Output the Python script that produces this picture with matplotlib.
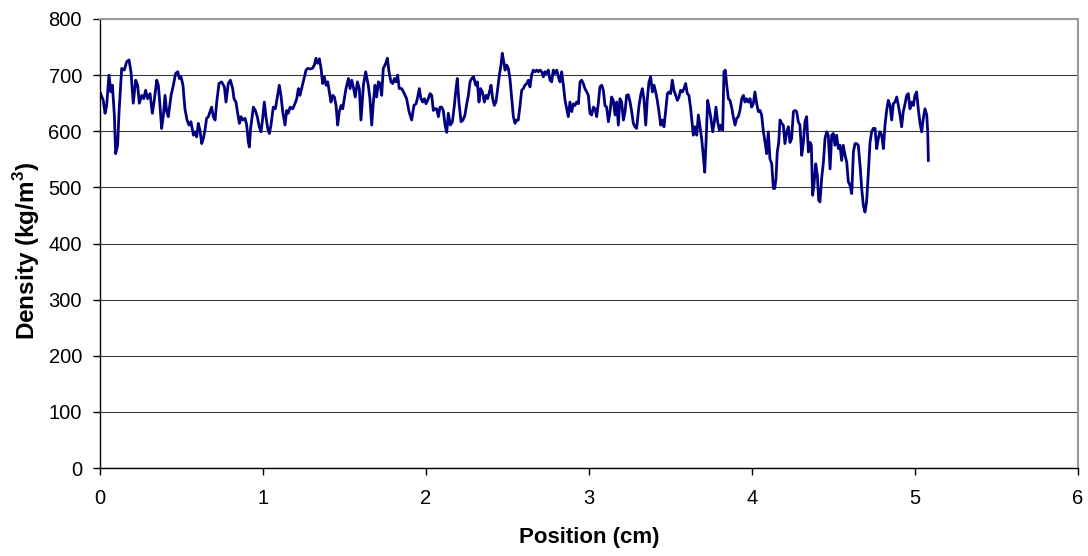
import matplotlib
matplotlib.use("Agg")
import matplotlib.pyplot as plt

plt.rcParams['font.family'] = ['Liberation Sans', 'DejaVu Sans']
plt.rcParams['mathtext.fontset'] = 'custom'
plt.rcParams['mathtext.rm'] = 'Liberation Sans'
plt.rcParams['mathtext.bf'] = 'Liberation Sans:bold'

# Position (cm) and density (kg/m3)
position = [
    0.000, 0.020, 0.031, 0.041, 0.055, 0.067, 0.076, 0.088, 0.096, 0.108,
    0.117, 0.133, 0.149, 0.164, 0.178, 0.190, 0.204, 0.219, 0.231, 0.241,
    0.256, 0.268, 0.280, 0.292, 0.307, 0.321, 0.333, 0.348, 0.358, 0.368,
    0.378, 0.389, 0.399, 0.409, 0.419, 0.436, 0.450, 0.464, 0.477, 0.487,
    0.497, 0.509, 0.521, 0.534, 0.546, 0.558, 0.573, 0.583, 0.593, 0.603,
    0.613, 0.624, 0.634, 0.644, 0.654, 0.665, 0.675, 0.685, 0.695, 0.706,
    0.716, 0.730, 0.746, 0.763, 0.773, 0.787, 0.800,
    0.814, 0.822, 0.834, 0.843, 0.855, 0.865, 0.875, 0.890, 0.900, 0.910,
    0.916, 0.924, 0.941, 0.953, 0.965, 0.977, 0.988, 0.998, 1.008, 1.018,
    1.029, 1.039, 1.049, 1.063, 1.076, 1.088, 1.100, 1.110, 1.121, 1.135,
    1.145, 1.155, 1.166, 1.182, 1.196, 1.207, 1.217, 1.227, 1.237, 1.252,
    1.264, 1.274, 1.288, 1.303, 1.315, 1.325, 1.335, 1.346, 1.356, 1.366,
    1.376, 1.387, 1.397, 1.407, 1.417, 1.427, 1.438, 1.448, 1.458, 1.468,
    1.479, 1.489, 1.499, 1.509, 1.524, 1.534, 1.544, 1.554, 1.566, 1.579,
    1.591, 1.601, 1.616, 1.630,
    1.646, 1.656, 1.667, 1.677, 1.687, 1.697, 1.708, 1.718, 1.728, 1.738,
    1.753, 1.763, 1.773, 1.785, 1.796, 1.806, 1.816, 1.826, 1.836, 1.851,
    1.867, 1.881, 1.896, 1.912, 1.926, 1.939, 1.949, 1.959, 1.969, 1.980,
    1.990, 2.000, 2.010, 2.025, 2.035, 2.045, 2.055, 2.065, 2.076, 2.086,
    2.096, 2.106, 2.117, 2.127, 2.137, 2.149, 2.162, 2.174, 2.182, 2.192,
    2.202, 2.215, 2.227, 2.239, 2.250, 2.260, 2.270, 2.280, 2.292, 2.305,
    2.315, 2.325, 2.335, 2.346, 2.358, 2.368, 2.378, 2.389, 2.399, 2.409,
    2.419, 2.429, 2.440, 2.450, 2.460, 2.468, 2.477,
    2.485, 2.495, 2.505, 2.515, 2.526, 2.536, 2.546, 2.556, 2.566, 2.577,
    2.587, 2.597, 2.607, 2.618, 2.628, 2.638, 2.648, 2.658, 2.669, 2.679,
    2.689, 2.699, 2.710, 2.720, 2.730, 2.740, 2.750, 2.761, 2.771, 2.781,
    2.791, 2.802, 2.812, 2.822, 2.832, 2.843, 2.853, 2.863, 2.873, 2.883,
    2.894, 2.904, 2.914, 2.924, 2.935, 2.945, 2.955, 2.965, 2.975, 2.986,
    2.996, 3.006, 3.016, 3.027, 3.037, 3.047, 3.057, 3.067, 3.078, 3.088,
    3.098, 3.108, 3.119, 3.129, 3.139, 3.149, 3.160, 3.170, 3.180, 3.190,
    3.200, 3.211, 3.221, 3.231, 3.241, 3.252, 3.262, 3.272, 3.282, 3.292,
    3.303,
    3.307, 3.317, 3.327, 3.337, 3.348, 3.358, 3.368, 3.378, 3.389, 3.399,
    3.409, 3.419, 3.429, 3.440, 3.450, 3.460, 3.470, 3.481, 3.491, 3.501,
    3.511, 3.521, 3.532, 3.542, 3.552, 3.562, 3.573, 3.583, 3.593, 3.603,
    3.613, 3.624, 3.634, 3.640, 3.650, 3.661, 3.671, 3.681, 3.691, 3.701,
    3.710, 3.718, 3.728, 3.738, 3.748, 3.759, 3.769, 3.779, 3.789, 3.800,
    3.810, 3.820, 3.828, 3.836, 3.845, 3.855, 3.865, 3.875, 3.885, 3.896,
    3.906, 3.916, 3.926, 3.937, 3.947, 3.957, 3.967, 3.977, 3.988, 3.998,
    4.008, 4.018, 4.029, 4.039, 4.049, 4.059, 4.070, 4.080, 4.090, 4.100,
    4.110, 4.121, 4.131,
    4.139, 4.147, 4.155, 4.164, 4.172, 4.182, 4.192, 4.202, 4.213, 4.223,
    4.233, 4.243, 4.254, 4.264, 4.274, 4.284, 4.294, 4.305, 4.315, 4.325,
    4.335, 4.346, 4.356, 4.364, 4.372, 4.380, 4.391, 4.401, 4.409, 4.417,
    4.427, 4.438, 4.448, 4.458, 4.468, 4.479, 4.489, 4.499, 4.509, 4.519,
    4.530, 4.540, 4.550, 4.560, 4.571, 4.581, 4.591, 4.601, 4.612, 4.622,
    4.632, 4.642, 4.652, 4.663, 4.673, 4.683, 4.693, 4.703, 4.714, 4.724,
    4.734, 4.744, 4.755, 4.765, 4.775, 4.785, 4.796, 4.806, 4.816, 4.826,
    4.836, 4.847, 4.857, 4.867, 4.877, 4.888, 4.898, 4.908, 4.918, 4.928,
    4.939, 4.949, 4.959, 4.969, 4.980, 4.990, 5.000, 5.010, 5.020, 5.031,
    5.041, 5.051, 5.061, 5.072, 5.078, 5.082,
]

density = [
    670, 655, 632, 646, 700, 670, 682, 629, 560, 575,
    635, 712, 709, 724, 727, 706, 650, 691, 682, 650,
    664, 658, 673, 658, 667, 632, 655, 691, 682, 646,
    605, 629, 664, 635, 626, 664, 682, 703, 706, 694,
    697, 682, 640, 620, 611, 617, 593, 599, 590, 614,
    602, 578, 587, 602, 623, 626, 635, 643, 626, 620,
    652, 685, 688, 679, 652, 685, 691,
    676, 658, 652, 635, 614, 626, 620, 623, 611, 581,
    572, 605, 643, 637, 626, 608, 599, 623, 652, 626,
    605, 596, 611, 643, 640, 661, 682, 664, 635, 611,
    637, 632, 643, 640, 649, 658, 676, 664, 676, 694,
    709, 712, 711, 712, 718, 730, 721, 729, 712, 685,
    697, 682, 688, 670, 652, 664, 661, 646, 611, 635,
    646, 640, 658, 676, 694, 676, 691, 679, 661, 688,
    676, 620, 682, 706,
    682, 658, 611, 652, 682, 661, 688, 685, 664, 712,
    721, 730, 706, 688, 685, 694, 688, 700, 676, 676,
    667, 658, 635, 620, 646, 649, 661, 676, 658, 652,
    658, 649, 655, 667, 664, 637, 640, 640, 626, 643,
    643, 637, 611, 598, 632, 611, 617, 646, 670, 694,
    652, 617, 620, 629, 649, 664, 688, 694, 697, 682,
    688, 652, 676, 670, 652, 664, 658, 670, 682, 658,
    646, 652, 676, 700, 718, 739, 724,
    709, 718, 712, 694, 658, 626, 614, 620, 620, 646,
    673, 676, 682, 685, 691, 679, 700, 709, 706, 709,
    706, 709, 706, 697, 706, 703, 709, 691, 688, 709,
    703, 709, 697, 688, 706, 682, 655, 640, 626, 652,
    635, 649, 646, 652, 649, 688, 691, 685, 676, 670,
    664, 632, 629, 643, 640, 626, 649, 679, 682, 673,
    646, 643, 617, 635, 661, 655, 629, 652, 611, 658,
    652, 620, 635, 664, 665, 652, 635, 614, 608, 605,
    635,
    646, 664, 676, 658, 611, 658, 688, 697, 670, 682,
    670, 655, 635, 611, 620, 608, 635, 667, 670, 667,
    691, 673, 664, 655, 661, 673, 670, 676, 685, 667,
    664, 640, 611, 593, 608, 593, 629, 608, 587, 557,
    527, 581, 655, 640, 623, 599, 617, 643, 617, 602,
    611, 602, 706, 709, 682, 658, 655, 643, 626, 611,
    623, 626, 637, 658, 664, 652, 658, 652, 658, 643,
    649, 670, 649, 635, 637, 629, 599, 581, 560, 599,
    551, 542, 498,
    498, 515, 563, 580, 620, 614, 611, 578, 599, 608,
    580, 587, 635, 637, 635, 617, 611, 557, 580, 617,
    626, 563, 580, 575, 486, 504, 542, 521, 477, 474,
    515, 545, 587, 599, 593, 533, 593, 596, 575, 593,
    569, 575, 548, 575, 557, 545, 510, 504, 489, 563,
    578, 578, 575, 539, 498, 468, 456, 474, 527, 580,
    599, 605, 605, 569, 587, 599, 593, 569, 611, 637,
    655, 646, 620, 649, 652, 661, 646, 629, 608, 635,
    649, 664, 667, 640, 652, 646, 664, 670, 640, 614,
    599, 623, 640, 629, 599, 548,
]

x_ticks = [0, 1, 2, 3, 4, 5, 6]
y_ticks = [0, 100, 200, 300, 400, 500, 600, 700, 800]

fig = plt.figure(figsize=(10.88, 5.56), dpi=100)
ax = fig.add_axes([100 / 1088, 1 - 468 / 556, 978 / 1088, 449 / 556])

ax.plot(position, density, color='#000080', linewidth=2.0)

ax.set_xlim(0, 6)
ax.set_ylim(0, 800)
ax.set_xticks(x_ticks)
ax.set_yticks(y_ticks)
ax.yaxis.grid(True, color='#3a3a3a', linewidth=0.8)
ax.set_axisbelow(True)

ax.spines['top'].set_color('#999999')
ax.spines['right'].set_color('#999999')
ax.spines['top'].set_linewidth(1.5)
ax.spines['right'].set_linewidth(1.5)
ax.spines['left'].set_color('black')
ax.spines['bottom'].set_color('black')
ax.spines['left'].set_linewidth(1.0)
ax.spines['bottom'].set_linewidth(1.0)

ax.tick_params(axis='both', direction='out', length=5, width=1, labelsize=14.5, colors='black')
ax.tick_params(axis='x', pad=10)
ax.tick_params(axis='y', pad=8)

ax.set_xlabel('Position (cm)', fontsize=16, fontweight='bold', labelpad=14)
ax.set_ylabel(r'Density (kg/m$^{\mathbf{3}}$)', fontsize=17.5, fontweight='bold')
ax.yaxis.set_label_coords(-0.059, 0.483)

fig.savefig('out.png', dpi=100, facecolor='white')
